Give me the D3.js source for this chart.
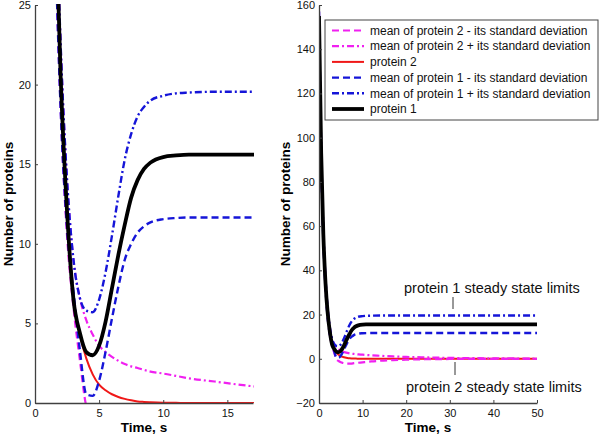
<!DOCTYPE html>
<html><head><meta charset="utf-8">
<script src="https://cdn.jsdelivr.net/npm/d3@7"></script>
<style>
body{margin:0;background:#fff;}
svg{display:block;font-family:"Liberation Sans",Arial,sans-serif;}
</style></head>
<body>
<svg id="c" width="600" height="436"></svg>
<script>
// ---- data ----
const time = [0, 0.5, 1, 1.5, 2, 2.5, 3, 3.5, 4, 4.5, 5, 5.5, 6, 6.5, 7, 7.5, 8, 8.5, 9, 10, 11, 12, 14, 17, 20, 25, 30, 40, 50];
const protein1 = [155, 93, 56, 34, 20.5, 12, 6.5, 4.4, 3.2, 3.0, 3.6, 5.1, 7.2, 9.3, 11.2, 12.9, 14.0, 14.7, 15.1, 15.45, 15.55, 15.6, 15.6, 15.6, 15.6, 15.6, 15.6, 15.6, 15.6];
const protein1Plus = [157, 95, 58, 36, 22.5, 14, 9, 6.6, 5.8, 5.7, 6.5, 8.2, 10.5, 13.0, 15.3, 16.9, 18.0, 18.6, 19.0, 19.3, 19.45, 19.5, 19.55, 19.55, 19.55, 19.55, 19.55, 19.55, 19.55];
const protein1Minus = [153, 91, 54, 32, 18.5, 11, 7, 3.3, 0.55, 0.45, 1.4, 3.2, 5.3, 7.3, 9.0, 10.0, 10.7, 11.1, 11.35, 11.55, 11.62, 11.65, 11.65, 11.65, 11.65, 11.65, 11.65, 11.65, 11.65];
const protein2 = [155, 93, 56, 34, 20.5, 12, 6.5, 4.3, 2.8, 1.8, 1.15, 0.8, 0.55, 0.38, 0.26, 0.17, 0.1, 0.07, 0.05, 0.02, 0.01, 0, 0, 0, 0, 0, 0, 0, 0];
const protein2Plus = [157, 95, 58, 36, 22.5, 14, 9, 6.6, 5.2, 4.3, 3.6, 3.2, 2.9, 2.65, 2.45, 2.3, 2.2, 2.08, 1.97, 1.85, 1.7, 1.55, 1.35, 1.05, 0.85, 0.6, 0.4, 0.2, 0.1];
const protein2Minus = [153, 91, 54, 32, 18.5, 10.5, 6, 2.7, -0.2, -1.0, -1.6, -1.9, -2.1, -2.2, -2.2, -2.15, -2.0, -1.9, -1.8, -1.6, -1.4, -1.2, -0.9, -0.6, -0.4, -0.2, -0.1, 0, 0];

const legendLabels = [
  "mean of protein 2 - its standard deviation",
  "mean of protein 2 + its standard deviation",
  "protein 2",
  "mean of protein 1 - its standard deviation",
  "mean of protein 1 + its standard deviation",
  "protein 1"
];
const leftXTicks = [0, 5, 10, 15];
const leftYTicks = [0, 5, 10, 15, 20, 25];
const rightXTicks = [0, 10, 20, 30, 40, 50];
const rightYTicks = [-20, 0, 20, 40, 60, 80, 100, 120, 140, 160];
const xLabel = "Time, s";
const yLabel = "Number of proteins";
const annot1 = "protein 1 steady state limits";
const annot2 = "protein 2 steady state limits";

// ---- styles ----
const series = [
  {vals: protein2, color: "#f01818", width: 2, dash: null},
  {vals: protein2Minus, color: "#f020f0", width: 2.2, dash: "7,4"},
  {vals: protein2Plus, color: "#f020f0", width: 2.2, dash: "7,3,2,3"},
  {vals: protein1Minus, color: "#1515d8", width: 2.4, dash: "7,4"},
  {vals: protein1Plus, color: "#1515d8", width: 2.4, dash: "7,3,2,3"},
  {vals: protein1, color: "#000", width: 3.8, dash: null}
];
const legendStyles = [series[1], series[2], series[0], series[3], series[4], series[5]];

const svg = d3.select("#c");
const axisColor = "#404040";

function panel(id, xDom, xRange, yDom, yRange, xt, yt, ylabX) {
  const x = d3.scaleLinear().domain(xDom).range(xRange);
  const y = d3.scaleLinear().domain(yDom).range(yRange);
  const g = svg.append("g");
  g.append("clipPath").attr("id", id).append("rect")
    .attr("x", xRange[0]).attr("y", yRange[1] - 1)
    .attr("width", xRange[1] - xRange[0] + 1).attr("height", yRange[0] - yRange[1] + 1);
  const line = d3.line().x((d, i) => x(time[i])).y(d => y(d)).curve(d3.curveMonotoneX);
  const lg = g.append("g").attr("clip-path", `url(#${id})`);
  series.forEach(s => {
    lg.append("path").attr("d", line(s.vals)).attr("fill", "none")
      .attr("stroke", s.color).attr("stroke-width", s.width)
      .attr("stroke-dasharray", s.dash).attr("stroke-linejoin", "round");
  });
  const xa = g.append("g").attr("transform", `translate(0,${yRange[0]})`)
    .call(d3.axisBottom(x).tickValues(xt).tickSizeInner(-3).tickSizeOuter(0).tickPadding(6));
  const ya = g.append("g").attr("transform", `translate(${xRange[0]},0)`)
    .call(d3.axisLeft(y).tickValues(yt).tickSizeInner(-3).tickSizeOuter(0).tickPadding(4));
  [xa, ya].forEach(a => {
    a.select(".domain").attr("stroke", axisColor).attr("stroke-width", 1.3);
    a.selectAll(".tick line").attr("stroke", axisColor);
    a.selectAll("text").attr("font-size", 11).attr("fill", "#111").attr("font-family", null);
  });
  g.append("text").attr("x", (xRange[0] + xRange[1]) / 2).attr("y", 432)
    .attr("text-anchor", "middle").attr("font-weight", "bold").attr("font-size", 13.5).text(xLabel);
  g.append("text").attr("transform", `translate(${ylabX},${(yRange[0] + yRange[1]) / 2}) rotate(-90)`)
    .attr("text-anchor", "middle").attr("font-weight", "bold").attr("font-size", 13.5).text(yLabel);
  return {x, y, g};
}

panel("clipL", [0, 17], [35, 253], [0, 25], [403, 5], leftXTicks, leftYTicks, 13);
const R = panel("clipR", [0, 50], [319, 537], [-20, 160], [403, 5], rightXTicks, rightYTicks, 290);

// legend
const lgd = svg.append("g");
lgd.append("rect").attr("x", 325).attr("y", 20).attr("width", 273).attr("height", 100)
  .attr("fill", "#fff").attr("stroke", "#444").attr("stroke-width", 1);
legendLabels.forEach((lab, i) => {
  const yy = 30.5 + i * 15.7;
  const s = legendStyles[i];
  lgd.append("line").attr("x1", 332).attr("x2", 364).attr("y1", yy).attr("y2", yy)
    .attr("stroke", s.color).attr("stroke-width", s.width).attr("stroke-dasharray", s.dash);
  lgd.append("text").attr("x", 370).attr("y", yy + 4.2).attr("font-size", 12).attr("fill", "#111").text(lab);
});

// annotations
svg.append("text").attr("x", 404).attr("y", 292.5).attr("font-size", 14.5).attr("fill", "#111").text(annot1);
svg.append("line").attr("x1", 453).attr("x2", 453).attr("y1", 297).attr("y2", 309).attr("stroke", "#333");
svg.append("text").attr("x", 406).attr("y", 391.5).attr("font-size", 14.5).attr("fill", "#111").text(annot2);
svg.append("line").attr("x1", 455).attr("x2", 455).attr("y1", 362).attr("y2", 375).attr("stroke", "#333");
</script>
</body></html>
